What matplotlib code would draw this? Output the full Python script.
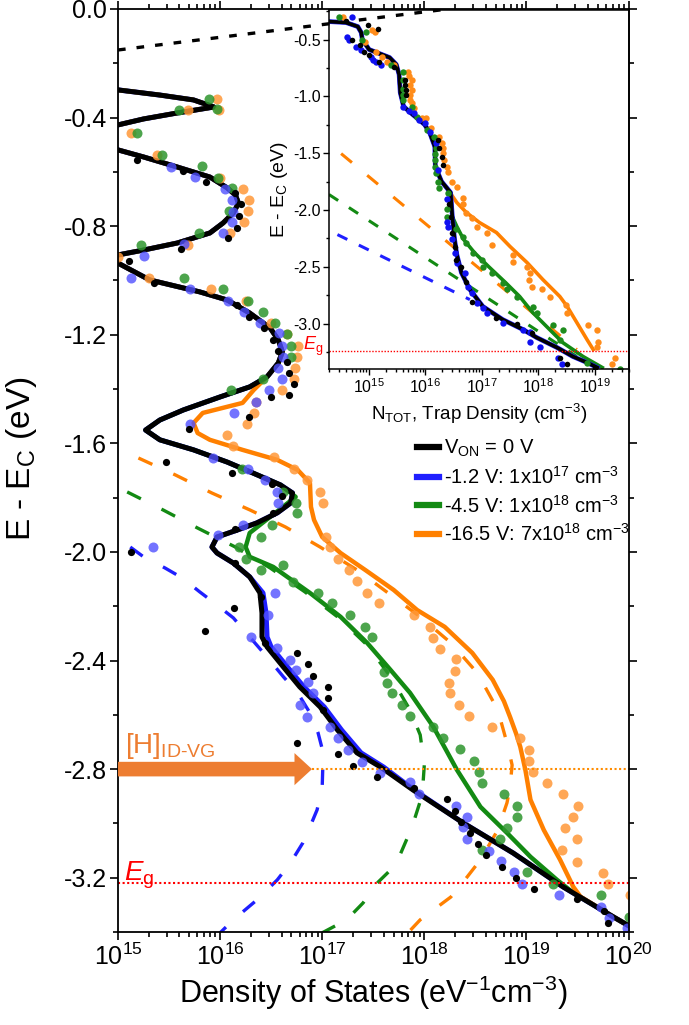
import numpy as np
import matplotlib
matplotlib.use('Agg')
import matplotlib.pyplot as plt
from matplotlib.ticker import LogLocator, MultipleLocator, FixedLocator, FuncFormatter, NullFormatter
from matplotlib.lines import Line2D

plt.rcParams['font.family'] = ['Liberation Sans', 'DejaVu Sans']
plt.rcParams['mathtext.fontset'] = 'custom'
plt.rcParams['mathtext.rm'] = 'Liberation Sans'
plt.rcParams['mathtext.it'] = 'Liberation Sans:italic'
plt.rcParams['mathtext.bf'] = 'Liberation Sans:bold'
plt.rcParams['mathtext.default'] = 'regular'

# ---------------- DATA (energy E in eV, logN = log10 of density) ----------------
# main panel: solid fitted DOS curves
black_E = [-0.26, -0.298, -0.317, -0.335, -0.361, -0.383, -0.405, -0.427, -0.47, -0.519, -0.545, -0.582,
           -0.619, -0.659, -0.685, -0.715, -0.751, -0.788, -0.825, -0.862, -0.888, -0.906, -0.921, -0.936,
           -0.998, -1.042, -1.072, -1.120, -1.175, -1.219, -1.263, -1.304, -1.355, -1.392, -1.429, -1.477,
           -1.514, -1.551, -1.587, -1.624, -1.669, -1.709, -1.753, -1.783, -1.820, -1.856, -1.893, -1.919,
           -1.945, -1.982, -2.004, -2.041, -2.092, -2.151, -2.225, -2.313, -2.350, -2.424, -2.497, -2.571,
           -2.656, -2.740, -2.792, -2.877, -2.998, -3.109, -3.234, -3.344, -3.381]
black_logN = [14.5, 15.0, 15.41, 15.74, 15.94, 15.58, 15.25, 15.0, 14.5, 15.0, 15.25, 15.58,
              15.90, 16.07, 16.15, 16.18, 16.13, 16.03, 15.90, 15.58, 15.25, 15.0, 14.75, 15.0,
              15.31, 15.80, 16.07, 16.29, 16.49, 16.57, 16.61, 16.57, 16.46, 16.29, 16.00, 15.64,
              15.41, 15.27, 15.41, 15.74, 16.07, 16.32, 16.59, 16.71, 16.69, 16.56, 16.36, 16.17,
              15.97, 15.92, 15.97, 16.13, 16.29, 16.39, 16.41, 16.41, 16.46, 16.62, 16.78, 16.98,
              17.15, 17.34, 17.57, 17.89, 18.38, 18.87, 19.36, 19.85, 20.02]

blue_low_E = [-2.151, -2.225, -2.313, -2.350, -2.424, -2.497, -2.571, -2.656, -2.740, -2.792, -2.877,
              -2.998, -3.109, -3.234, -3.344, -3.381]
blue_low_logN = [16.42, 16.45, 16.46, 16.50, 16.66, 16.82, 17.02, 17.19, 17.38, 17.60, 17.90,
                 18.38, 18.87, 19.36, 19.85, 20.02]

green_low_E = [-1.797, -1.871, -1.930, -1.982, -2.018, -2.055, -2.151, -2.239, -2.335, -2.435, -2.519,
               -2.645, -2.803, -2.939, -3.035, -3.123, -3.208, -3.256, -3.344, -3.381]
green_low_logN = [16.74, 16.49, 16.29, 16.25, 16.29, 16.52, 16.88, 17.18, 17.44, 17.67, 17.86,
                  18.09, 18.32, 18.55, 18.81, 19.04, 19.30, 19.46, 19.85, 20.02]

orange_low_E = [-1.403, -1.451, -1.488, -1.525, -1.562, -1.587, -1.624, -1.661, -1.698, -1.746, -1.834,
                -1.882, -1.945, -2.004, -2.066, -2.140, -2.214, -2.276, -2.372, -2.471, -2.550, -2.608,
                -2.670, -2.718, -2.803, -2.913, -3.024, -3.134, -3.234, -3.27, -3.344, -3.381]
orange_low_logN = [16.33, 16.22, 15.83, 15.74, 15.78, 15.90, 16.22, 16.56, 16.76, 16.88, 16.89,
                   16.92, 17.00, 17.18, 17.42, 17.70, 17.93, 18.20, 18.47, 18.67, 18.78, 18.84,
                   18.90, 18.94, 18.99, 19.04, 19.17, 19.33, 19.46, 19.53, 19.85, 20.02]

# main panel: dashed component curves
blue_dash_E = [-1.982, -2.018, -2.059, -2.096, -2.147, -2.184, -2.243, -2.313, -2.387, -2.460, -2.519,
               -2.593, -2.667, -2.740, -2.866, -2.950, -3.013, -3.072, -3.145, -3.208, -3.282, -3.355, -3.403]
blue_dash_logN = [15.12, 15.25, 15.46, 15.63, 15.80, 15.93, 16.13, 16.29, 16.46, 16.62, 16.76,
                  16.88, 16.96, 17.01, 17.00, 16.95, 16.88, 16.81, 16.69, 16.56, 16.36, 16.13, 16.0]
green_dash_E = [-1.779, -1.845, -1.912, -1.982, -2.059, -2.147, -2.239, -2.343, -2.460, -2.582, -2.674,
                -2.785, -2.895, -3.013, -3.153, -3.219, -3.293, -3.355, -3.403]
green_dash_logN = [15.09, 15.44, 15.78, 16.15, 16.49, 16.83, 17.15, 17.44, 17.67, 17.86, 17.96,
                   18.0, 17.98, 17.88, 17.72, 17.54, 17.40, 17.24, 17.0]
orange_dash_E = [-1.654, -1.716, -1.783, -1.845, -1.908, -1.982, -2.066, -2.158, -2.239, -2.335, -2.446,
                 -2.582, -2.718, -2.785, -2.866, -2.924, -3.024, -3.134, -3.197, -3.271, -3.355, -3.403]
orange_dash_logN = [15.20, 15.56, 15.92, 16.29, 16.64, 16.98, 17.34, 17.67, 17.96, 18.26, 18.52,
                    18.72, 18.82, 18.86, 18.84, 18.81, 18.72, 18.55, 18.42, 18.26, 17.96, 17.84]
tail_E = [-0.151, 0.0]
tail_logN = [15.0, 18.23]

# main panel: data points (E, log10 DOS)
black_pts = [(-0.556, 15.19), (-0.597, 15.64), (-0.637, 15.86), (-0.678, 16.15), (-0.718, 16.20), (-0.762, 16.19),
             (-0.807, 16.17), (-0.843, 16.08), (-0.884, 15.62), (-0.928, 15.11), (-1.009, 15.35), (-1.090, 16.17),
             (-1.134, 16.28), (-1.175, 16.43), (-1.219, 16.52), (-1.260, 16.57), (-1.300, 16.66), (-1.341, 16.67),
             (-1.381, 16.72), (-1.422, 16.67), (-1.429, 16.50), (-1.503, 16.28), (-1.547, 15.70), (-1.668, 15.47),
             (-1.709, 16.12), (-1.750, 16.51), (-1.794, 16.61), (-1.856, 16.52), (-1.915, 16.15), (-2.000, 15.13),
             (-2.041, 16.15), (-2.206, 16.14), (-2.291, 15.85), (-2.166, 16.40), (-2.335, 16.44), (-2.372, 16.75),
             (-2.413, 16.86), (-2.457, 16.91), (-2.497, 17.06), (-2.538, 17.06), (-2.582, 17.01), (-2.703, 16.75),
             (-2.744, 17.15), (-2.788, 17.30), (-2.829, 17.54), (-2.869, 17.90), (-2.910, 18.22), (-2.954, 18.30),
             (-2.994, 18.36), (-3.035, 18.45), (-3.075, 18.53), (-3.116, 18.60), (-3.160, 18.76), (-3.201, 18.90),
             (-3.241, 19.07), (-3.278, 19.50), (-3.322, 19.76), (-3.366, 19.80)]
blue_pts = [(-0.582, 15.52), (-0.619, 15.75), (-0.663, 16.05), (-0.703, 16.12), (-0.748, 16.13), (-0.785, 16.12),
            (-0.825, 16.03), (-0.866, 15.65), (-0.910, 15.25), (-0.991, 15.13), (-1.031, 15.71), (-1.075, 16.08),
            (-1.116, 16.23), (-1.157, 16.39), (-1.193, 16.58), (-1.241, 16.61), (-1.282, 16.62), (-1.322, 16.57),
            (-1.363, 16.61), (-1.403, 16.48), (-1.448, 16.35), (-1.488, 16.14), (-1.529, 15.71), (-1.654, 15.93),
            (-1.694, 16.27), (-1.735, 16.44), (-1.779, 16.56), (-1.820, 16.57), (-1.901, 16.22), (-1.937, 15.98),
            (-1.982, 15.34), (-2.151, 16.54), (-2.232, 16.47), (-2.313, 16.30), (-2.354, 16.56), (-2.398, 16.68),
            (-2.435, 16.74), (-2.479, 16.86), (-2.519, 16.91), (-2.564, 16.78), (-2.608, 16.85), (-2.645, 17.08),
            (-2.685, 17.15), (-2.729, 17.25), (-2.773, 17.39), (-2.814, 17.57), (-2.847, 17.86), (-2.891, 17.95),
            (-2.936, 18.31), (-2.976, 18.42), (-3.013, 18.38), (-3.057, 18.42), (-3.101, 18.63), (-3.138, 18.75),
            (-3.179, 18.88), (-3.223, 18.96), (-3.263, 19.32), (-3.308, 19.73), (-3.348, 19.81), (-3.385, 19.99)]
green_pts = [(-0.331, 15.89), (-0.372, 15.60), (-0.368, 15.97), (-0.457, 15.19), (-0.538, 15.43), (-0.578, 15.82),
             (-0.622, 15.98), (-0.659, 16.12), (-0.744, 16.09), (-0.825, 15.79), (-0.869, 15.23), (-0.991, 15.65),
             (-1.031, 16.03), (-1.075, 16.27), (-1.116, 16.42), (-1.157, 16.54), (-1.197, 16.66), (-1.241, 16.69),
             (-1.282, 16.69), (-1.363, 16.42), (-1.403, 16.11), (-1.694, 16.21), (-1.779, 16.62), (-1.820, 16.74),
             (-1.856, 16.75), (-1.901, 16.51), (-1.945, 16.40), (-1.982, 16.19), (-2.026, 16.25), (-2.066, 16.40),
             (-2.048, 16.62), (-2.111, 16.71), (-2.151, 16.96), (-2.188, 17.10), (-2.232, 17.27), (-2.276, 17.42),
             (-2.313, 17.49), (-2.442, 17.61), (-2.482, 17.63), (-2.519, 17.68), (-2.564, 17.78), (-2.604, 17.86),
             (-2.645, 18.09), (-2.685, 18.18), (-2.726, 18.35), (-2.770, 18.49), (-2.810, 18.54), (-2.851, 18.57),
             (-2.891, 18.78), (-2.936, 18.91), (-2.976, 18.91), (-3.017, 18.81), (-3.057, 18.74), (-3.098, 18.57),
             (-3.179, 19.01), (-3.223, 19.26), (-3.263, 19.73), (-3.344, 20.0)]
orange_pts = [(-0.331, 15.97), (-0.372, 15.69), (-0.372, 15.99), (-0.457, 15.13), (-0.538, 15.38), (-0.622, 16.00),
              (-0.663, 16.22), (-0.703, 16.28), (-0.744, 16.27), (-0.785, 16.23), (-0.825, 16.10), (-0.869, 15.69),
              (-0.913, 15.0), (-0.991, 15.30), (-1.031, 15.91), (-1.075, 16.25), (-1.157, 16.50), (-1.197, 16.66),
              (-1.241, 16.76), (-1.282, 16.75), (-1.322, 16.73), (-1.363, 16.72), (-1.403, 16.61), (-1.448, 16.35),
              (-1.488, 16.33), (-1.529, 16.26), (-1.569, 16.07), (-1.610, 16.13), (-1.650, 16.53), (-1.694, 16.72),
              (-1.735, 16.85), (-1.779, 16.98), (-1.820, 17.01), (-1.945, 17.04), (-1.982, 17.08), (-2.026, 17.15),
              (-2.066, 17.26), (-2.107, 17.34), (-2.151, 17.44), (-2.188, 17.56), (-2.232, 17.90), (-2.276, 18.06),
              (-2.317, 18.09), (-2.357, 18.15), (-2.394, 18.31), (-2.438, 18.30), (-2.482, 18.24), (-2.519, 18.25),
              (-2.564, 18.34), (-2.604, 18.44), (-2.645, 18.66), (-2.685, 18.94), (-2.729, 19.03), (-2.770, 19.03),
              (-2.810, 19.06), (-2.851, 19.20), (-2.891, 19.36), (-2.936, 19.51), (-2.976, 19.46), (-3.017, 19.38),
              (-3.057, 19.50), (-3.098, 19.35), (-3.142, 19.50), (-3.182, 19.75), (-3.223, 19.80), (-3.263, 20.01)]

Eg_main = -3.22
H_level = -2.8
H_arrow_logN = 16.9

# inset: cumulative trap density N_TOT
in_black_E = [-0.341, -0.342, -0.350, -0.386, -0.438, -0.500, -0.588, -0.658, -0.720, -0.808, -0.967, -1.090,
              -1.160, -1.248, -1.319, -1.442, -1.618, -1.750, -1.847, -2.058, -2.260, -2.393, -2.551, -2.700,
              -2.850, -2.965, -3.053, -3.123, -3.211, -3.290, -3.343, -3.387]
in_black_logN = [14.2, 14.30, 14.60, 14.81, 14.87, 14.89, 15.01, 15.37, 15.49, 15.54, 15.56, 15.62,
                 15.78, 15.99, 16.08, 16.17, 16.18, 16.29, 16.45, 16.48, 16.52, 16.56, 16.64, 16.79,
                 17.02, 17.37, 17.73, 17.97, 18.33, 18.61, 18.86, 19.04]
in_green_low_E = [-2.146, -2.26, -2.375, -2.498, -2.639, -2.762, -2.903, -3.053, -3.167, -3.29, -3.387]
in_green_low_logN = [16.56, 16.68, 16.87, 17.12, 17.42, 17.67, 17.90, 18.20, 18.43, 18.79, 19.13]
in_orange_low_E = [-1.82, -1.935, -2.023, -2.111, -2.199, -2.322, -2.463, -2.613, -2.762, -2.85, -2.991,
                   -3.141, -3.229]
in_orange_low_logN = [16.40, 16.56, 16.73, 16.96, 17.26, 17.50, 17.80, 18.08, 18.38, 18.51, 18.68,
                      18.86, 18.97]
in_blue_dash = ([-2.217, -2.789], [14.45, 16.79])
in_green_dash = ([-1.864, -3.29], [14.30, 18.68])
in_orange_dash = ([-1.504, -3.229], [14.515, 18.68])
Eg_inset = -3.245

in_black_pts = [(-0.333, 14.60), (-0.368, 14.99), (-0.403, 15.17), (-0.50, 14.71), (-0.544, 14.84), (-0.606, 14.92),
                (-0.632, 15.01), (-0.694, 15.19), (-0.738, 15.45), (-0.852, 15.65), (-0.896, 15.65), (-0.94, 15.67),
                (-0.984, 15.67), (-1.380, 16.22), (-1.451, 16.25), (-1.530, 16.29), (-1.60, 16.31), (-1.952, 16.43),
                (-2.058, 16.45), (-2.199, 16.48), (-2.322, 16.52), (-2.437, 16.55), (-2.498, 16.64), (-2.63, 16.73),
                (-2.806, 16.82), (-2.947, 17.26), (-3.00, 17.62), (-3.079, 17.88), (-3.30, 18.38), (-3.352, 18.50),
                (-3.387, 19.0)]
in_blue_pts = [(-0.306, 14.71), (-0.474, 14.62), (-0.50, 14.66), (-0.562, 14.78), (-0.588, 14.87), (-0.65, 15.05),
               (-0.676, 15.07), (-0.702, 15.14), (-0.72, 15.22), (-1.09, 15.60), (-1.125, 15.72), (-1.143, 15.81),
               (-1.204, 15.90), (-1.231, 15.99), (-1.31, 16.08), (-1.407, 16.20), (-1.644, 16.22), (-1.908, 16.38),
               (-2.102, 16.38), (-2.146, 16.40), (-2.26, 16.48), (-2.375, 16.52), (-2.463, 16.57), (-2.551, 16.70),
               (-2.674, 16.75), (-2.727, 16.82), (-2.815, 16.91), (-2.859, 17.02), (-2.903, 17.09), (-2.991, 17.37),
               (-3.053, 17.73), (-3.07, 17.85), (-3.158, 17.85), (-3.202, 18.03), (-3.30, 18.35), (-3.352, 18.42)]
in_green_pts = [(-0.306, 14.48), (-0.43, 14.96), (-0.50, 14.89), (-0.72, 15.40), (-0.782, 15.60), (-0.852, 15.61),
                (-0.931, 15.61), (-0.984, 15.61), (-1.028, 15.61), (-1.09, 15.77), (-1.178, 15.86), (-1.292, 16.04),
                (-1.354, 16.16), (-1.451, 16.20), (-1.504, 16.18), (-1.556, 16.18), (-1.618, 16.18), (-1.671, 16.20),
                (-1.75, 16.22), (-1.803, 16.25), (-1.847, 16.40), (-1.996, 16.38), (-2.058, 16.38), (-2.172, 16.55),
                (-2.234, 16.66), (-2.287, 16.73), (-2.375, 16.84), (-2.437, 17.0), (-2.498, 17.02), (-2.551, 17.19),
                (-2.639, 17.37), (-2.70, 17.44), (-2.762, 17.62), (-2.85, 17.90), (-2.903, 17.97), (-3.009, 18.26),
                (-3.053, 18.43), (-3.141, 18.38), (-3.343, 18.86), (-3.396, 19.44)]
in_orange_pts = [(-0.306, 14.55), (-0.412, 15.06), (-0.438, 15.12), (-0.518, 14.94), (-0.614, 15.14), (-0.658, 15.24),
                 (-0.694, 15.33), (-0.72, 15.45), (-0.782, 15.69), (-0.817, 15.72), (-0.852, 15.76), (-0.896, 15.74),
                 (-0.94, 15.76), (-0.984, 15.74), (-1.028, 15.74), (-1.055, 15.76), (-1.099, 15.81), (-1.187, 15.94),
                 (-1.195, 16.02), (-1.275, 16.11), (-1.354, 16.25), (-1.407, 16.29), (-1.451, 16.31), (-1.495, 16.31),
                 (-1.556, 16.34), (-1.618, 16.38), (-1.662, 16.40), (-1.75, 16.48), (-1.794, 16.57), (-1.891, 16.66),
                 (-1.952, 16.66), (-2.023, 16.73), (-2.067, 16.82), (-2.146, 16.91), (-2.199, 17.09), (-2.305, 17.18),
                 (-2.393, 17.55), (-2.454, 17.55), (-2.498, 17.80), (-2.551, 17.85), (-2.613, 17.83), (-2.674, 17.88),
                 (-2.70, 18.06), (-2.762, 18.20), (-2.833, 18.49), (-2.903, 18.50), (-3.009, 18.88), (-3.053, 19.04),
                 (-3.158, 19.05), (-3.202, 19.04), (-3.30, 19.36), (-3.352, 19.31)]

legend_labels = [r'V$_{\mathrm{ON}}$ = 0 V',
                 r'-1.2 V: 1x10$^{17}$ cm$^{-3}$',
                 r'-4.5 V: 1x10$^{18}$ cm$^{-3}$',
                 r'-16.5 V: 7x10$^{18}$ cm$^{-3}$']

# ---------------- STYLE ----------------
C_BLACK = 'black'
C_BLUE = '#1f1fff'
C_GREEN = '#138a13'
C_ORANGE = '#ff8000'
D_BLUE = '#5050ff'
D_GREEN = '#2e962e'
D_ORANGE = '#ff9838'
C_H = '#ed7d31'


def prefix(E, N, stop):
    i = [k for k, e in enumerate(E) if e >= stop]
    return [E[k] for k in i], [N[k] for k in i]


def plot_curve(ax, E, logN, **kw):
    kw.setdefault('solid_joinstyle', 'round')
    ax.plot(10 ** np.asarray(logN, float), np.asarray(E, float), **kw)


def plot_pts(ax, pts, **kw):
    a = np.asarray(pts, float)
    ax.plot(10 ** a[:, 1], a[:, 0], 'o', mec='none', **kw)


fig = plt.figure(figsize=(6.89, 10.25), dpi=100)
W, H = 689.0, 1025.0
ax = fig.add_axes([118 / W, 1 - 932 / H, 510.5 / W, 923 / H])

# dashed components
dash_kw = dict(lw=2.4, dashes=(4.6, 6.9), dash_capstyle='butt')
plot_curve(ax, blue_dash_E, blue_dash_logN, color=C_BLUE, **dash_kw)
plot_curve(ax, green_dash_E, green_dash_logN, color=C_GREEN, **dash_kw)
plot_curve(ax, orange_dash_E, orange_dash_logN, color=C_ORANGE, **dash_kw)
plot_curve(ax, tail_E, tail_logN, color='black', lw=2.4, dashes=(2.3, 3.3))

# solid curves
bE, bN = prefix(black_E, black_logN, -2.10)
plot_curve(ax, bE + blue_low_E, bN + blue_low_logN, color=C_BLUE, lw=3.6)
gE, gN = prefix(black_E, black_logN, -1.76)
plot_curve(ax, gE + green_low_E, gN + green_low_logN, color=C_GREEN, lw=3.2)
oE, oN = prefix(black_E, black_logN, -1.36)
plot_curve(ax, oE + orange_low_E, oN + orange_low_logN, color=C_ORANGE, lw=3.2)
plot_curve(ax, black_E, black_logN, color=C_BLACK, lw=3.6)

# points
plot_pts(ax, orange_pts, color=D_ORANGE, ms=7.2, alpha=0.85)
plot_pts(ax, green_pts, color=D_GREEN, ms=7.2, alpha=0.85)
plot_pts(ax, blue_pts, color=D_BLUE, ms=7.2, alpha=0.8)
plot_pts(ax, black_pts, color='black', ms=5.2)

# reference lines and arrow
ax.axhline(Eg_main, color='red', ls=(0, (1, 1.2)), lw=1.5)
ax.plot([10 ** H_arrow_logN, 1e20], [H_level, H_level], color='#ff8c00', ls=(0, (1, 1.2)), lw=1.5)
ax.annotate('', xy=(10 ** H_arrow_logN, H_level), xytext=(1e15, H_level),
            arrowprops=dict(arrowstyle='simple,head_length=0.9,head_width=1.65,tail_width=0.75',
                            mutation_scale=14, fc=C_H, ec='none', shrinkA=0, shrinkB=0))
ax.text(10 ** 15.07, -2.742, r'[H]$_{\mathrm{ID\text{-}VG}}$', color=C_H, fontsize=20, va='baseline')
ax.text(10 ** 15.06, -3.21, r'$\mathit{E}_{\mathrm{g}}$', color='red', fontsize=20, va='baseline')

ax.set_xscale('log')
ax.set_xlim(1e15, 1e20)
ax.set_ylim(-3.4, 0.0)
ax.yaxis.set_major_locator(MultipleLocator(0.4))
ax.yaxis.set_minor_locator(MultipleLocator(0.2))
ax.yaxis.set_major_formatter(FuncFormatter(lambda v, p: '0.0' if abs(v) < 1e-9 else '%.1f' % v))
ax.xaxis.set_major_locator(LogLocator(base=10, numticks=10))
ax.xaxis.set_minor_locator(LogLocator(base=10, subs=np.arange(2, 10), numticks=50))
ax.xaxis.set_minor_formatter(NullFormatter())
ax.xaxis.set_major_formatter(FuncFormatter(lambda v, p: r'$10^{%d}$' % round(np.log10(v))))
ax.tick_params(which='both', direction='out', top=True, right=True, width=1.2, labelsize=18)
ax.tick_params(which='major', length=6, pad=2)
ax.tick_params(which='minor', length=3.5)
for s in ax.spines.values():
    s.set_linewidth(1.3)
ax.set_xlabel(r'Density of States (eV$^{-1}$cm$^{-3}$)', fontsize=22)
ax.xaxis.set_label_coords(0.5, -0.045)
ax.set_ylabel(r'E - E$_{\mathrm{C}}$ (eV)', fontsize=24)
ax.yaxis.set_label_coords(-0.155, 0.513)

handles = [Line2D([], [], color=c, lw=4.5) for c in (C_BLACK, C_BLUE, C_GREEN, C_ORANGE)]
fig.legend(handles, legend_labels, loc='upper left', bbox_to_anchor=(417 / W, 1 - 438 / H),
           frameon=False, fontsize=14.5, handlelength=1.1, handletextpad=0.25, labelspacing=0.33,
           borderpad=0, borderaxespad=0)

# ---------------- INSET ----------------
axin = fig.add_axes([329 / W, 1 - 369 / H, 300 / W, 359 / H])
axin.set_facecolor('none')
in_dash = dict(lw=2.2, dash_capstyle='butt')
plot_curve(axin, in_blue_dash[0], in_blue_dash[1], color=C_BLUE, dashes=(3.6, 4.2), **in_dash)
plot_curve(axin, in_green_dash[0], in_green_dash[1], color=C_GREEN, dashes=(3.6, 4.2), **in_dash)
plot_curve(axin, in_orange_dash[0], in_orange_dash[1], color=C_ORANGE, dashes=(4.6, 6.5), **in_dash)

igE, igN = prefix(in_black_E, in_black_logN, -2.06)
plot_curve(axin, igE + in_green_low_E, igN + in_green_low_logN, color=C_GREEN, lw=2.6)
ioE, ioN = prefix(in_black_E, in_black_logN, -1.76)
plot_curve(axin, ioE + in_orange_low_E, ioN + in_orange_low_logN, color=C_ORANGE, lw=2.6)
plot_curve(axin, in_black_E, in_black_logN, color=C_BLUE, lw=3.4)
plot_curve(axin, in_black_E, in_black_logN, color=C_BLACK, lw=2.6)

plot_pts(axin, in_orange_pts, color='#ff8c1a', ms=4.6)
plot_pts(axin, in_green_pts, color='#1e8c1e', ms=4.6)
plot_pts(axin, in_blue_pts, color='#1010f0', ms=4.6)
plot_pts(axin, in_black_pts, color='black', ms=4.0)

axin.axhline(Eg_inset, color='red', ls=(0, (1, 1.2)), lw=1.0)
axin.text(-0.02, Eg_inset + 0.015, r'$\mathit{E}_{\mathrm{g}}$', color='red', fontsize=13,
          transform=axin.get_yaxis_transform(), ha='right', va='baseline')

axin.set_xscale('log')
axin.set_xlim(2e14, 4e19)
axin.set_ylim(-3.4, -0.24)
axin.yaxis.set_major_locator(MultipleLocator(0.5))
axin.yaxis.set_minor_locator(MultipleLocator(0.25))
axin.yaxis.set_major_formatter(FuncFormatter(lambda v, p: '%.1f' % v))
axin.xaxis.set_major_locator(FixedLocator([1e15, 1e16, 1e17, 1e18, 1e19]))
axin.xaxis.set_minor_locator(LogLocator(base=10, subs=np.arange(2, 10), numticks=50))
axin.xaxis.set_minor_formatter(NullFormatter())
axin.xaxis.set_major_formatter(FuncFormatter(lambda v, p: r'$10^{%d}$' % round(np.log10(v))))
axin.tick_params(which='both', direction='out', width=1.0, labelsize=11.5)
axin.tick_params(which='major', length=4, pad=2)
axin.tick_params(which='minor', length=2.5)
for s in axin.spines.values():
    s.set_linewidth(1.1)
axin.set_xlabel(r'N$_{\mathrm{TOT}}$, Trap Density (cm$^{-3}$)', fontsize=13.5, labelpad=4)
axin.set_ylabel(r'E - E$_{\mathrm{C}}$ (eV)', fontsize=14, labelpad=2)

fig.savefig('out.png', dpi=100)
